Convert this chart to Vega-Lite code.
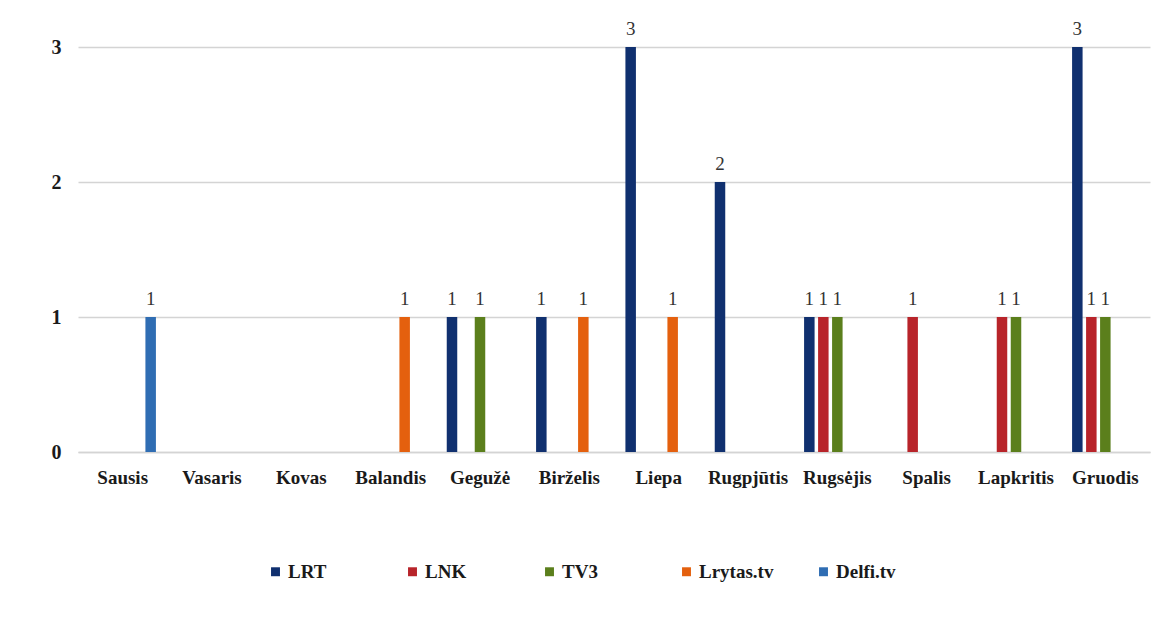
{
  "$schema": "https://vega.github.io/schema/vega-lite/v6.json",
  "width": 1072,
  "height": 405,
  "autosize": {"type": "none"},
  "padding": {"left": 78, "top": 47, "right": 20, "bottom": 167},
  "background": "white",
  "config": {
    "view": {"stroke": null},
    "font": "Liberation Serif"
  },
  "data": {
    "values": [
      {"month": "Sausis", "source": "Delfi.tv", "count": 1},
      {"month": "Balandis", "source": "Lrytas.tv", "count": 1},
      {"month": "Gegužė", "source": "LRT", "count": 1},
      {"month": "Gegužė", "source": "TV3", "count": 1},
      {"month": "Birželis", "source": "LRT", "count": 1},
      {"month": "Birželis", "source": "Lrytas.tv", "count": 1},
      {"month": "Liepa", "source": "LRT", "count": 3},
      {"month": "Liepa", "source": "Lrytas.tv", "count": 1},
      {"month": "Rugpjūtis", "source": "LRT", "count": 2},
      {"month": "Rugsėjis", "source": "LRT", "count": 1},
      {"month": "Rugsėjis", "source": "LNK", "count": 1},
      {"month": "Rugsėjis", "source": "TV3", "count": 1},
      {"month": "Spalis", "source": "LNK", "count": 1},
      {"month": "Lapkritis", "source": "LNK", "count": 1},
      {"month": "Lapkritis", "source": "TV3", "count": 1},
      {"month": "Gruodis", "source": "LRT", "count": 3},
      {"month": "Gruodis", "source": "LNK", "count": 1},
      {"month": "Gruodis", "source": "TV3", "count": 1}
    ]
  },
  "encoding": {
    "x": {
      "field": "month",
      "type": "nominal",
      "scale": {
        "domain": ["Sausis", "Vasaris", "Kovas", "Balandis", "Gegužė", "Birželis", "Liepa", "Rugpjūtis", "Rugsėjis", "Spalis", "Lapkritis", "Gruodis"],
        "paddingInner": 0.2164,
        "paddingOuter": 0.1082
      },
      "axis": {
        "title": null,
        "labelAngle": 0,
        "labelFont": "Liberation Serif",
        "labelFontWeight": "bold",
        "labelFontSize": 19,
        "labelColor": "#1a1a1a",
        "labelPadding": 16,
        "ticks": false,
        "domainColor": "#d4d4d4",
        "domainWidth": 1.5,
        "grid": false
      }
    },
    "xOffset": {
      "field": "source",
      "type": "nominal",
      "scale": {
        "domain": ["LRT", "LNK", "TV3", "Lrytas.tv", "Delfi.tv"],
        "paddingInner": 0.25,
        "paddingOuter": 0.125
      }
    },
    "y": {
      "field": "count",
      "type": "quantitative",
      "scale": {"domain": [0, 3], "nice": false},
      "axis": {
        "title": null,
        "values": [0, 1, 2, 3],
        "format": "d",
        "labelFont": "Liberation Serif",
        "labelFontWeight": "bold",
        "labelFontSize": 20,
        "labelColor": "#1a1a1a",
        "labelPadding": 17,
        "ticks": false,
        "domain": false,
        "gridColor": "#d4d4d4",
        "gridWidth": 1.5
      }
    }
  },
  "layer": [
    {
      "mark": {"type": "bar"},
      "encoding": {
        "color": {
          "field": "source",
          "type": "nominal",
          "scale": {
            "domain": ["LRT", "LNK", "TV3", "Lrytas.tv", "Delfi.tv"],
            "range": ["#10306f", "#b8242a", "#5b7f1c", "#e4600e", "#2f6db3"]
          },
          "legend": {
            "title": null,
            "orient": "none",
            "direction": "horizontal",
            "legendX": 188,
            "legendY": 515,
            "symbolType": "square",
            "symbolSize": 80,
            "symbolStrokeWidth": 0,
            "labelFont": "Liberation Serif",
            "labelFontWeight": "bold",
            "labelFontSize": 19,
            "labelColor": "#1a1a1a",
            "labelOffset": 3,
            "gridAlign": "all",
            "columnPadding": 40,
            "padding": 0
          }
        }
      }
    },
    {
      "mark": {
        "type": "text",
        "baseline": "bottom",
        "dy": -8,
        "font": "Liberation Serif",
        "fontSize": 19,
        "color": "#333333"
      },
      "encoding": {
        "text": {"field": "count", "type": "quantitative"}
      }
    }
  ]
}
